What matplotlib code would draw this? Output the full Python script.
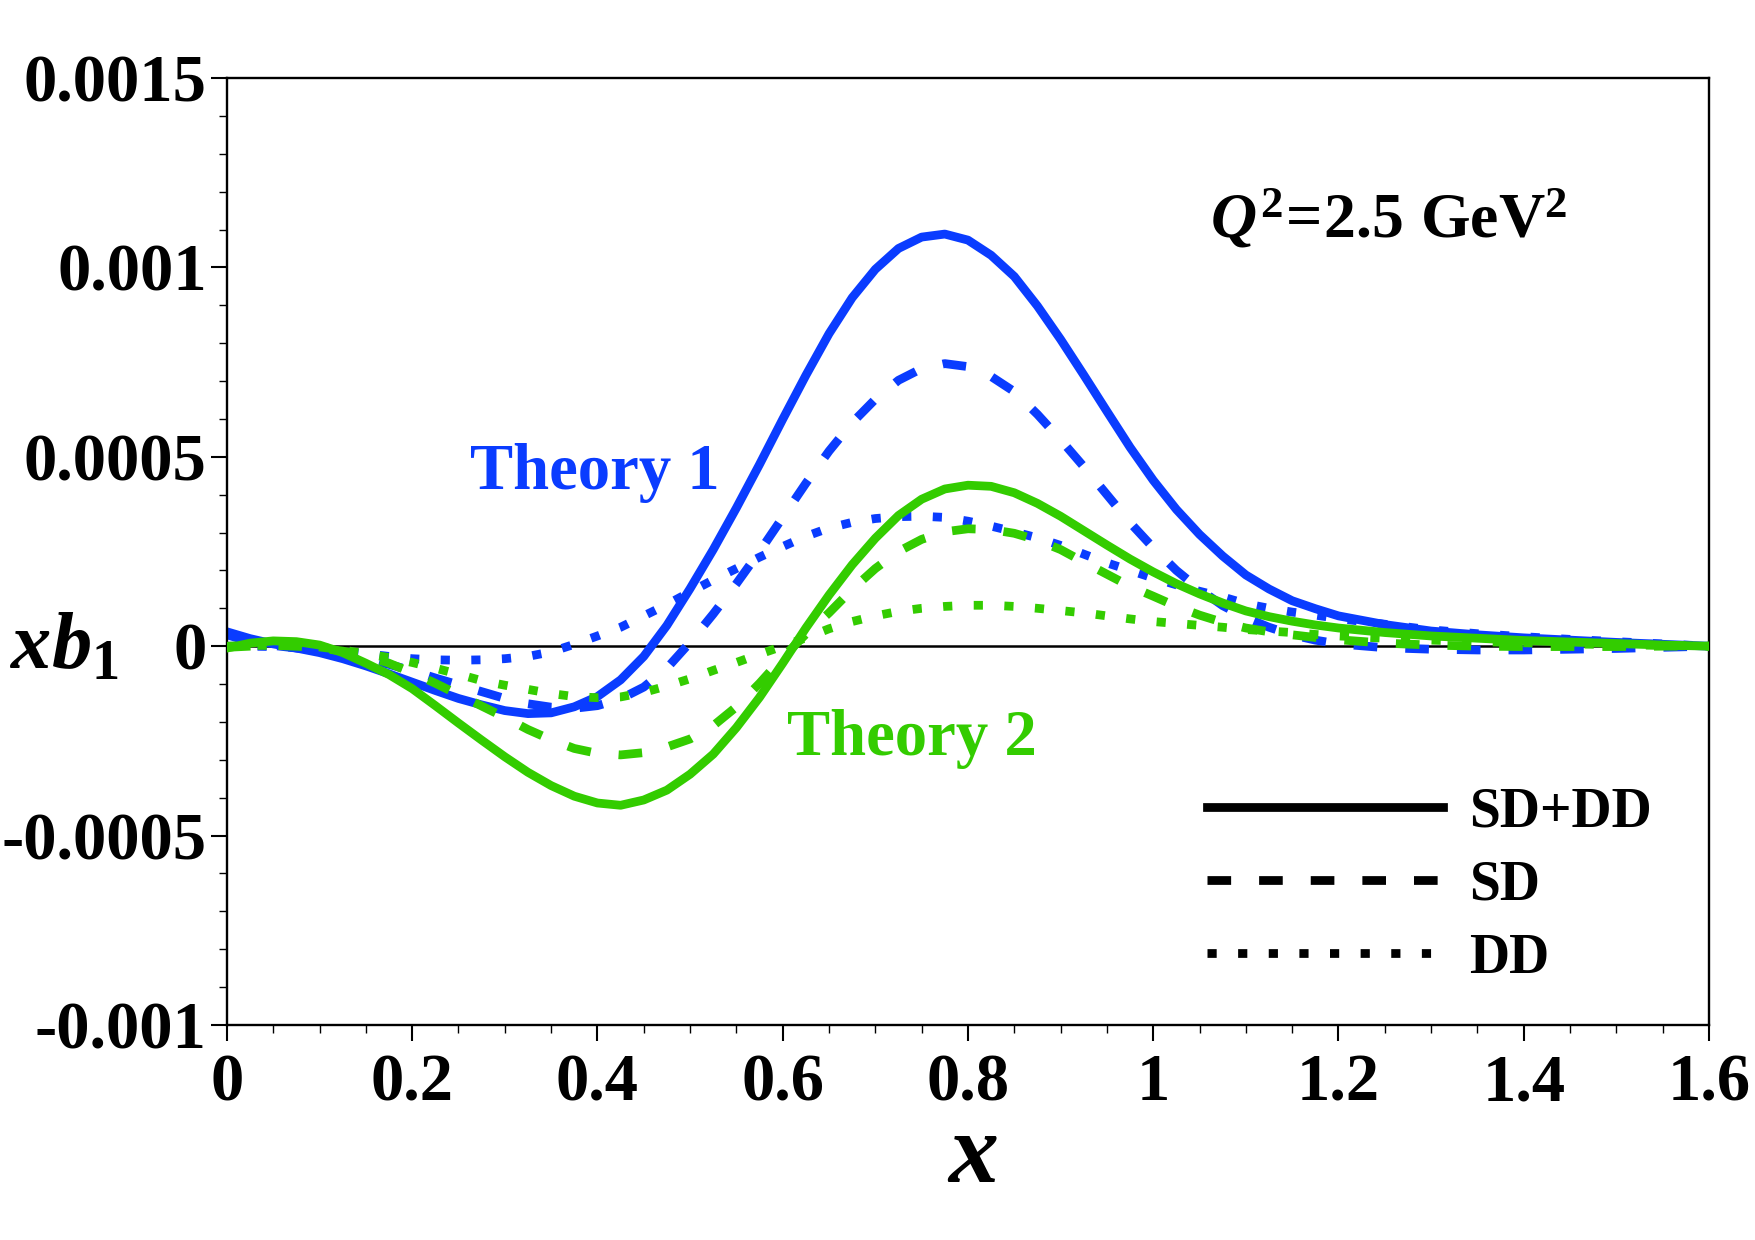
import matplotlib
matplotlib.use("Agg")
import matplotlib.pyplot as plt
from matplotlib.lines import Line2D
from matplotlib.ticker import MultipleLocator
import numpy as np

# ---------------- data (values in units of 1e-4) ----------------
x = [0.000, 0.025, 0.050, 0.075, 0.100, 0.125, 0.150, 0.175, 0.200, 0.225,
     0.250, 0.275, 0.300, 0.325, 0.350, 0.375, 0.400, 0.425, 0.450, 0.475,
     0.500, 0.525, 0.550, 0.575, 0.600, 0.625, 0.650, 0.675, 0.700, 0.725,
     0.750, 0.775, 0.800, 0.825, 0.850, 0.875, 0.900, 0.925, 0.950, 0.975,
     1.000, 1.025, 1.050, 1.075, 1.100, 1.125, 1.150, 1.175, 1.200,
     1.250, 1.300, 1.350, 1.400, 1.450, 1.500, 1.550, 1.600]

theory1_sd_dd = [0.38, 0.20, 0.06, -0.05, -0.17, -0.33, -0.52, -0.73, -0.95, -1.17,
                 -1.38, -1.55, -1.70, -1.78, -1.76, -1.60, -1.33, -0.89, -0.27, 0.55,
                 1.52, 2.55, 3.65, 4.80, 5.99, 7.15, 8.25, 9.20, 9.95, 10.50,
                 10.80, 10.88, 10.72, 10.32, 9.76, 8.98, 8.10, 7.16, 6.20, 5.25,
                 4.38, 3.61, 2.95, 2.38, 1.88, 1.51, 1.20, 0.99, 0.80,
                 0.57, 0.40, 0.30, 0.22, 0.16, 0.10, 0.05, 0.00]
theory1_sd = [0.30, 0.12, 0.02, -0.05, -0.12, -0.22, -0.33, -0.48, -0.65, -0.84,
              -1.02, -1.20, -1.38, -1.52, -1.61, -1.64, -1.57, -1.39, -1.08, -0.58,
              0.10, 0.85, 1.65, 2.50, 3.40, 4.30, 5.15, 5.90, 6.52, 7.02,
              7.33, 7.46, 7.38, 7.12, 6.72, 6.12, 5.45, 4.74, 4.00, 3.26,
              2.60, 2.00, 1.50, 1.07, 0.75, 0.50, 0.30, 0.16, 0.06,
              -0.04, -0.08, -0.10, -0.10, -0.08, -0.06, -0.03, 0.00]
theory1_dd = [0.00, 0.00, -0.01, -0.03, -0.07, -0.13, -0.20, -0.27, -0.33, -0.36,
              -0.37, -0.36, -0.33, -0.27, -0.15, 0.05, 0.27, 0.50, 0.80, 1.10,
              1.43, 1.75, 2.05, 2.35, 2.63, 2.90, 3.12, 3.27, 3.37, 3.42,
              3.43, 3.40, 3.30, 3.17, 3.02, 2.86, 2.66, 2.43, 2.20, 2.00,
              1.80, 1.62, 1.45, 1.30, 1.12, 1.00, 0.90, 0.82, 0.73,
              0.58, 0.43, 0.33, 0.25, 0.18, 0.12, 0.06, 0.00]

theory2_sd_dd = [-0.05, 0.08, 0.14, 0.12, 0.03, -0.17, -0.45, -0.75, -1.12, -1.57,
                 -2.03, -2.48, -2.92, -3.33, -3.68, -3.96, -4.14, -4.20, -4.06, -3.80,
                 -3.38, -2.85, -2.15, -1.35, -0.45, 0.48, 1.35, 2.15, 2.85, 3.45,
                 3.88, 4.15, 4.25, 4.22, 4.05, 3.77, 3.43, 3.05, 2.67, 2.30,
                 1.96, 1.65, 1.38, 1.14, 0.93, 0.78, 0.66, 0.56, 0.48,
                 0.36, 0.27, 0.21, 0.15, 0.11, 0.07, 0.03, 0.00]
theory2_sd = [-0.03, 0.00, 0.02, 0.00, -0.05, -0.13, -0.25, -0.45, -0.70, -0.98,
              -1.28, -1.58, -1.88, -2.20, -2.47, -2.70, -2.83, -2.87, -2.81, -2.66,
              -2.45, -2.10, -1.60, -0.98, -0.30, 0.32, 0.88, 1.50, 2.05, 2.50,
              2.82, 3.02, 3.10, 3.08, 2.98, 2.80, 2.55, 2.22, 1.90, 1.58,
              1.32, 1.05, 0.82, 0.63, 0.48, 0.38, 0.30, 0.23, 0.17,
              0.08, 0.03, 0.00, -0.01, -0.01, -0.01, 0.00, 0.00]
theory2_dd = [0.00, 0.02, 0.02, 0.01, -0.02, -0.10, -0.20, -0.30, -0.43, -0.58,
              -0.74, -0.91, -1.03, -1.14, -1.25, -1.33, -1.36, -1.34, -1.22, -1.05,
              -0.86, -0.64, -0.43, -0.21, 0.00, 0.22, 0.46, 0.65, 0.80, 0.92,
              1.00, 1.05, 1.08, 1.08, 1.05, 1.00, 0.94, 0.88, 0.80, 0.72,
              0.65, 0.60, 0.55, 0.50, 0.44, 0.40, 0.36, 0.31, 0.27,
              0.21, 0.16, 0.12, 0.09, 0.06, 0.04, 0.02, 0.00]

UNIT = 1e-4

xticks = [0, 0.2, 0.4, 0.6, 0.8, 1.0, 1.2, 1.4, 1.6]
xticklabels = ["0", "0.2", "0.4", "0.6", "0.8", "1", "1.2", "1.4", "1.6"]
yticks = [-0.001, -0.0005, 0, 0.0005, 0.001, 0.0015]
yticklabels = ["-0.001", "-0.0005", "0", "0.0005", "0.001", "0.0015"]
legend_labels = ["SD+DD", "SD", "DD"]

BLUE = "#0a3cff"
GREEN = "#33cc00"

# ---------------- style ----------------
plt.rcParams['font.family'] = ['Liberation Serif', 'DejaVu Serif']
plt.rcParams['font.weight'] = 'bold'
plt.rcParams['mathtext.fontset'] = 'custom'
plt.rcParams['mathtext.it'] = 'Liberation Serif:italic:bold'
plt.rcParams['mathtext.rm'] = 'Liberation Serif:bold'
plt.rcParams['mathtext.bf'] = 'Liberation Serif:bold'

fig = plt.figure(figsize=(17.55, 12.40), dpi=100)
ax = fig.add_axes([0.1293, 0.1734, 0.8445, 0.7637])

LW = 6.3
solid = '-'
dashed = (0, (2.7, 3.2))
dotted = (0, (1.05, 2.45))

ax.axhline(0, color='black', lw=1.8, zorder=1)

xa = np.array(x)
for vals, ls in [(theory1_sd_dd, solid), (theory1_sd, dashed), (theory1_dd, dotted)]:
    ax.plot(xa, np.array(vals) * UNIT, color=BLUE, lw=LW, linestyle=ls,
            dash_capstyle='butt', solid_joinstyle='round', zorder=2)
for vals, ls in [(theory2_sd_dd, solid), (theory2_sd, dashed), (theory2_dd, dotted)]:
    ax.plot(xa, np.array(vals) * UNIT, color=GREEN, lw=LW, linestyle=ls,
            dash_capstyle='butt', solid_joinstyle='round', zorder=3)

ax.set_xlim(0, 1.6)
ax.set_ylim(-0.001, 0.0015)

ax.set_xticks(xticks)
ax.set_xticklabels(xticklabels)
ax.set_yticks(yticks)
ax.set_yticklabels(yticklabels)
ax.xaxis.set_minor_locator(MultipleLocator(0.05))
ax.yaxis.set_minor_locator(MultipleLocator(0.0001))

ax.tick_params(axis='both', which='major', direction='out', length=11.5, width=1.5,
               labelsize=48, top=False, right=False)
ax.tick_params(axis='both', which='minor', direction='out', length=5.5, width=1.0,
               top=False, right=False)
ax.tick_params(axis='x', which='major', pad=9)
ax.tick_params(axis='y', which='major', pad=3)
for lab in ax.get_xticklabels() + ax.get_yticklabels():
    lab.set_fontweight('bold')

for sp in ax.spines.values():
    sp.set_linewidth(1.7)

ax.set_ylabel(r'$xb_{\mathrm{1}}$', fontsize=58, rotation=0, ha='center', va='center')
ax.yaxis.set_label_coords(-0.11, 0.397)
ax.set_xlabel(r'$x$', fontsize=72, ha='center', va='center')
ax.xaxis.set_label_coords(0.503, -0.14)

ax.text(0.663, 0.85, r'$Q^{\mathrm{2}}\!=\!\mathrm{2.5\ GeV}^{\mathrm{2}}$', transform=ax.transAxes,
        fontsize=46, ha='left', va='center')
ax.text(0.164, 0.583, 'Theory 1', transform=ax.transAxes, color=BLUE,
        fontsize=46.5, fontweight='bold', ha='left', va='center')
ax.text(0.378, 0.302, 'Theory 2', transform=ax.transAxes, color=GREEN,
        fontsize=46.5, fontweight='bold', ha='left', va='center')

handles = [Line2D([], [], color='black', lw=LW, linestyle=solid),
           Line2D([], [], color='black', lw=LW, linestyle=dashed, dash_capstyle='butt'),
           Line2D([], [], color='black', lw=LW, linestyle=dotted, dash_capstyle='butt')]
leg = ax.legend(handles, legend_labels, loc='upper left', bbox_to_anchor=(0.661, 0.252),
                frameon=False, borderpad=0, borderaxespad=0, handlelength=4.26,
                handletextpad=0.47, labelspacing=0.38,
                prop={'family': 'Liberation Serif', 'weight': 'bold', 'size': 40})

fig.savefig('out.png', dpi=100)
